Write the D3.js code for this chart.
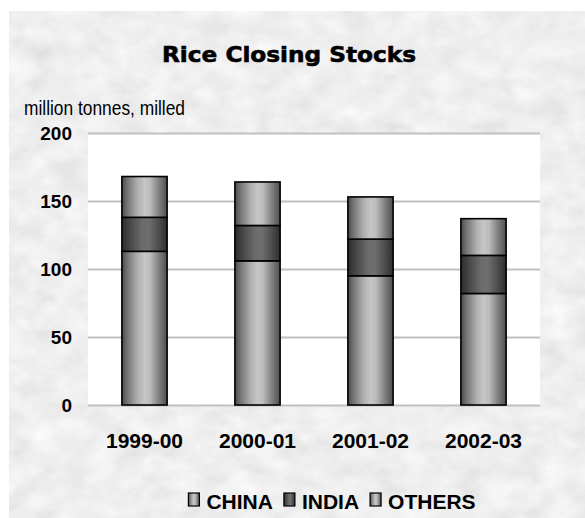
<!DOCTYPE html>
<html>
<head>
<meta charset="utf-8">
<script src="https://cdn.jsdelivr.net/npm/d3@7"></script>
<style>
  html, body { margin: 0; padding: 0; background: #fff; }
  svg { display: block; }
</style>
</head>
<body>
<svg id="chart" width="585" height="518"></svg>
<script>
// ---- data ----
const categories = ["1999-00", "2000-01", "2001-02", "2002-03"];
const china  = [113, 106, 95, 82];
const india  = [25, 26, 27, 28];
const others = [30, 32, 31, 27];
const seriesNames = ["CHINA", "INDIA", "OTHERS"];
const yTicks = [0, 50, 100, 150, 200];
const title = "Rice Closing Stocks";
const unitLabel = "million tonnes, milled";

const rows = categories.map((c, i) => ({ cat: c, CHINA: china[i], INDIA: india[i], OTHERS: others[i] }));

const svg = d3.select("#chart");
const W = 585, H = 518;
const plot = { left: 88, right: 540, top: 133, bottom: 405 };

const defs = svg.append("defs");

// paper texture
const f = defs.append("filter").attr("id", "paper")
  .attr("x", 0).attr("y", 0).attr("width", "100%").attr("height", "100%");
f.append("feTurbulence").attr("type", "fractalNoise").attr("baseFrequency", "0.035 0.05")
  .attr("numOctaves", 4).attr("seed", 7).attr("result", "n");
f.append("feColorMatrix").attr("type", "matrix")
  .attr("values", "0.14 0.14 0.14 0 0.65  0.14 0.14 0.14 0 0.65  0.14 0.14 0.14 0 0.65  0 0 0 0 1");

// gradients
function grad(id, stops) {
  const g = defs.append("linearGradient").attr("id", id)
    .attr("x1", "0%").attr("x2", "100%").attr("y1", "0%").attr("y2", "0%");
  stops.forEach(s => g.append("stop").attr("offset", s[0]).attr("stop-color", s[1]));
}
grad("g-light", [["0%", "#4a4a4a"], ["12%", "#747474"], ["35%", "#b0b0b0"], ["50%", "#c6c6c6"], ["62%", "#bcbcbc"], ["80%", "#868686"], ["100%", "#4e4e4e"]]);
grad("g-dark", [["0%", "#2c2c2c"], ["20%", "#4a4a4a"], ["45%", "#6c6c6c"], ["60%", "#6e6e6e"], ["80%", "#4f4f4f"], ["100%", "#2e2e2e"]]);
const fills = { CHINA: "url(#g-light)", INDIA: "url(#g-dark)", OTHERS: "url(#g-light)" };

// background
svg.append("rect").attr("x", 9).attr("y", 11).attr("width", W - 9).attr("height", H - 11)
  .attr("fill", "#dcdcdc").attr("filter", "url(#paper)");

// plot area
svg.append("rect").attr("x", plot.left).attr("y", plot.top)
  .attr("width", plot.right - plot.left).attr("height", plot.bottom - plot.top)
  .attr("fill", "#ffffff");

const x = d3.scaleBand().domain(categories).range([plot.left, plot.right])
  .paddingInner(0.6).paddingOuter(0.3);
const y = d3.scaleLinear().domain([0, 200]).range([plot.bottom, plot.top]);

// gridlines
const grid = svg.append("g").attr("transform", `translate(${plot.left},0)`)
  .call(d3.axisLeft(y).tickValues(yTicks).tickSize(-(plot.right - plot.left)).tickFormat(""));
grid.select(".domain").remove();
grid.selectAll(".tick line").attr("stroke", "#c0c0c0").attr("stroke-width", 2);

// y axis labels
const yAxis = svg.append("g").attr("transform", `translate(${plot.left},0)`)
  .call(d3.axisLeft(y).tickValues(yTicks).tickSize(0).tickPadding(16));
yAxis.select(".domain").remove();
yAxis.selectAll("text").attr("font-family", "'Liberation Sans', Arial, sans-serif")
  .attr("font-weight", "bold").attr("font-size", 19).attr("fill", "#000");

// stacked bars
const stack = d3.stack().keys(seriesNames)(rows);
svg.append("g").selectAll("g").data(stack).join("g")
  .attr("fill", d => fills[d.key])
  .selectAll("rect").data(d => d).join("rect")
  .attr("x", d => x(d.data.cat))
  .attr("width", x.bandwidth())
  .attr("y", d => y(d[1]))
  .attr("height", d => y(d[0]) - y(d[1]))
  .attr("stroke", "#000").attr("stroke-width", 1.6);

// x axis
const xAxis = svg.append("g").attr("transform", `translate(0,${plot.bottom})`)
  .call(d3.axisBottom(x).tickSize(0).tickPadding(28));
xAxis.select(".domain").remove();
xAxis.selectAll("text").attr("font-family", "'Liberation Sans', Arial, sans-serif")
  .attr("font-weight", "bold").attr("font-size", 21).attr("fill", "#000");

// title
svg.append("text").attr("x", 289).attr("y", 62).attr("text-anchor", "middle")
  .attr("font-family", "'DejaVu Sans', sans-serif").attr("font-weight", "bold")
  .attr("font-size", 22).attr("textLength", 254).attr("lengthAdjust", "spacingAndGlyphs")
  .attr("stroke", "#000").attr("stroke-width", 0.6)
  .text(title);

// unit label
svg.append("text").attr("x", 24).attr("y", 115)
  .attr("font-family", "'Liberation Sans Narrow', 'Liberation Sans', sans-serif")
  .attr("font-size", 20).attr("fill", "#000")
  .attr("textLength", 161).attr("lengthAdjust", "spacingAndGlyphs")
  .text(unitLabel);

// legend
const legend = svg.append("g");
let cx = 0;
seriesNames.forEach((name, i) => {
  const g = legend.append("g").attr("transform", `translate(${cx},0)`);
  g.append("rect").attr("x", 0).attr("y", -16).attr("width", 11).attr("height", 13)
    .attr("fill", fills[name]).attr("stroke", "#000").attr("stroke-width", 1.2);
  const t = g.append("text").attr("x", 18).attr("y", 0)
    .attr("font-family", "'Liberation Sans', Arial, sans-serif")
    .attr("font-weight", "bold").attr("font-size", 21).attr("fill", "#000").text(name);
  cx += 18 + t.node().getComputedTextLength() + 11;
});
const total = cx - 11;
legend.attr("transform", `translate(${332 - total / 2},509)`);
</script>
</body>
</html>
